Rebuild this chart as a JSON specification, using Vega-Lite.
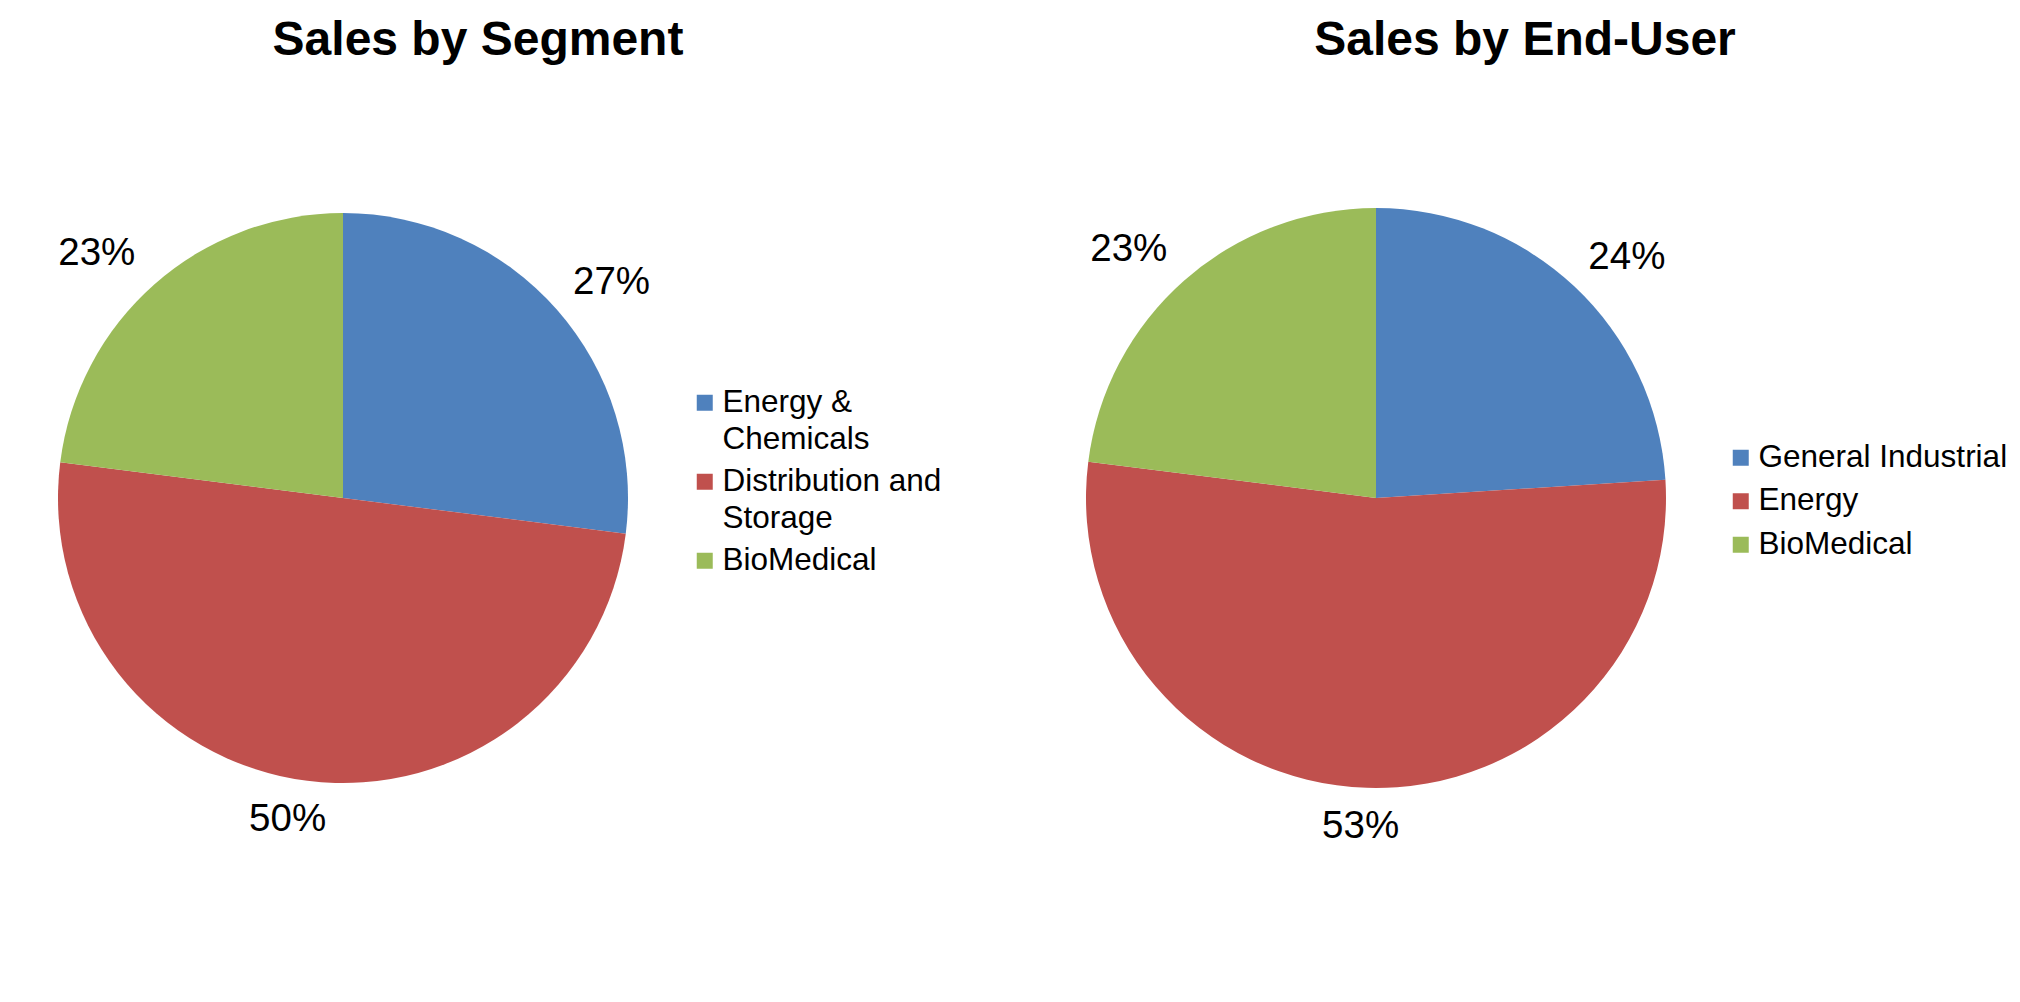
{
  "$schema": "https://vega.github.io/schema/vega-lite/v6.json",
  "padding": {"top": 17, "left": 0, "right": 0, "bottom": 0},
  "background": "white",
  "config": {
    "view": {"stroke": null},
    "font": "Liberation Sans",
    "title": {"font": "Liberation Sans", "fontSize": 48, "fontWeight": "bold", "color": "black", "anchor": "middle", "frame": "group"},
    "legend": {"labelFont": "Liberation Sans", "labelFontSize": 31.5, "labelColor": "black", "symbolType": "square", "symbolSize": 256, "symbolStrokeWidth": 0, "labelOffset": 2, "rowPadding": 9, "padding": 0, "labelLimit": 400},
    "text": {"fontSize": 38.5, "font": "Liberation Sans", "color": "black"}
  },
  "datasets": {
    "segment": [
      {"category": "Energy & Chemicals", "share": 0.27, "rank": 1},
      {"category": "Distribution and Storage", "share": 0.50, "rank": 2},
      {"category": "BioMedical", "share": 0.23, "rank": 3}
    ],
    "enduser": [
      {"category": "General Industrial", "share": 0.24, "rank": 1},
      {"category": "Energy", "share": 0.53, "rank": 2},
      {"category": "BioMedical", "share": 0.23, "rank": 3}
    ]
  },
  "bounds": "flush",
  "spacing": 400,
  "resolve": {"scale": {"color": "independent", "theta": "independent"}, "legend": {"color": "independent"}},
  "hconcat": [
    {
      "width": 686,
      "height": 800,
      "title": {"text": "Sales by Segment", "dx": 135, "offset": 33},
      "data": {"name": "segment"},
      "encoding": {
        "theta": {"field": "share", "type": "quantitative", "stack": true},
        "order": {"field": "rank", "type": "quantitative"},
        "detail": {"field": "category", "type": "nominal"}
      },
      "layer": [
        {"mark": {"type": "arc", "outerRadius": 285},
         "encoding": {
          "color": {
            "field": "category", "type": "nominal", "sort": null,
            "scale": {"domain": ["Energy & Chemicals", "Distribution and Storage", "BioMedical"], "range": ["#4F81BD", "#C0504D", "#9BBB59"]},
            "legend": {"title": null, "orient": "none", "legendX": 689, "legendY": 289,
              "labelExpr": "datum.label == 'Energy & Chemicals' ? ['Energy &', 'Chemicals'] : datum.label == 'Distribution and Storage' ? ['Distribution and', 'Storage'] : datum.label",
              "encode": {"labels": {"update": {"lineHeight": {"value": 37}}}}}
          }
         }},
        {"mark": {"type": "text", "radius": 330, "dx": 21, "dy": 2},
         "encoding": {"text": {"condition": {"test": "datum.rank == 1", "field": "share", "type": "quantitative", "format": ".0%"}, "value": ""}}},
        {"mark": {"type": "text", "radius": 330, "dx": -14, "dy": -6},
         "encoding": {"text": {"condition": {"test": "datum.rank == 2", "field": "share", "type": "quantitative", "format": ".0%"}, "value": ""}}},
        {"mark": {"type": "text", "radius": 330, "dx": -28, "dy": 3},
         "encoding": {"text": {"condition": {"test": "datum.rank == 3", "field": "share", "type": "quantitative", "format": ".0%"}, "value": ""}}}
      ]
    },
    {
      "width": 580,
      "height": 800,
      "title": {"text": "Sales by End-User", "dx": 149, "offset": 33},
      "data": {"name": "enduser"},
      "encoding": {
        "theta": {"field": "share", "type": "quantitative", "stack": true},
        "order": {"field": "rank", "type": "quantitative"},
        "detail": {"field": "category", "type": "nominal"}
      },
      "layer": [
        {"mark": {"type": "arc", "outerRadius": 290},
         "encoding": {
          "color": {
            "field": "category", "type": "nominal", "sort": null,
            "scale": {"domain": ["General Industrial", "Energy", "BioMedical"], "range": ["#4F81BD", "#C0504D", "#9BBB59"]},
            "legend": {"title": null, "orient": "none", "legendX": 639, "legendY": 344, "rowPadding": 10.5}
          }
         }},
        {"mark": {"type": "text", "radius": 330, "dx": 25, "dy": 0},
         "encoding": {"text": {"condition": {"test": "datum.rank == 1", "field": "share", "type": "quantitative", "format": ".0%"}, "value": ""}}},
        {"mark": {"type": "text", "radius": 330, "dx": -5, "dy": -2},
         "encoding": {"text": {"condition": {"test": "datum.rank == 2", "field": "share", "type": "quantitative", "format": ".0%"}, "value": ""}}},
        {"mark": {"type": "text", "radius": 330, "dx": -29, "dy": -1},
         "encoding": {"text": {"condition": {"test": "datum.rank == 3", "field": "share", "type": "quantitative", "format": ".0%"}, "value": ""}}}
      ]
    }
  ]
}
